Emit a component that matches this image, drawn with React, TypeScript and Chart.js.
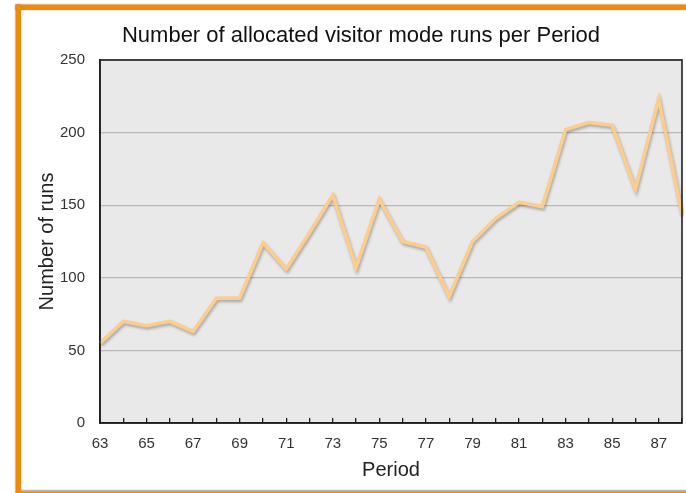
import React, { useEffect, useRef } from "react";
import { Chart, registerables } from "chart.js";

Chart.register(...registerables);

const periods = ["63","64","65","66","67","68","69","70","71","72","73","74","75","76","77","78","79","80","81","82","83","84","85","86","87","88"];
const runs = [55, 70, 67, 70, 63, 86, 86, 124, 106, 131, 157, 107, 154, 125, 121, 87, 125, 141, 152, 149, 202, 207, 205, 161, 223, 144];
const yTicks = [0, 50, 100, 150, 200, 250];

const TITLE = "Number of allocated visitor mode runs per Period";
const Y_TITLE = "Number of runs";
const X_TITLE = "Period";

const FONT = "'Liberation Sans', Arial, Helvetica, sans-serif";

const framePlugin = {
  id: "frame",
  beforeDraw(chart: any) {
    const { ctx, chartArea } = chart;
    ctx.save();
    ctx.fillStyle = "#ffffff";
    ctx.fillRect(0, 0, chart.width, chart.height);
    ctx.fillStyle = "#e9e9e9";
    ctx.fillRect(chartArea.left, chartArea.top, chartArea.right - chartArea.left, chartArea.bottom - chartArea.top);
    ctx.restore();
  },
  afterDraw(chart: any) {
    const { ctx, chartArea } = chart;
    ctx.save();
    ctx.strokeStyle = "#1e1e1e";
    ctx.lineWidth = 1.6;
    ctx.strokeRect(chartArea.left, chartArea.top, chartArea.right - chartArea.left, chartArea.bottom - chartArea.top);
    ctx.shadowColor = "rgba(0,0,0,0.25)";
    ctx.shadowBlur = 2;
    ctx.fillStyle = "#ef8a0a";
    ctx.fillRect(15.5, 4.5, chart.width - 15.5, 5.5);
    ctx.fillRect(15.5, 4.5, 5.5, chart.height - 4.5);
    ctx.shadowColor = "transparent";
    ctx.fillStyle = "#b9b3ab";
    ctx.fillRect(21, 489.8, chart.width - 21, 1.2);
    ctx.fillStyle = "#ef8a0a";
    ctx.fillRect(15.5, 491.2, chart.width - 15.5, 2);
    ctx.restore();
  },
};

const shadowPlugin = {
  id: "lineShadow",
  beforeDatasetDraw(chart: any) {
    const ctx = chart.ctx;
    ctx.save();
    ctx.shadowColor = "rgba(0,0,0,0.3)";
    ctx.shadowBlur = 3;
    ctx.shadowOffsetX = 1;
    ctx.shadowOffsetY = 2;
  },
  afterDatasetDraw(chart: any) {
    chart.ctx.restore();
  },
};

export default function App() {
  const ref = useRef<HTMLCanvasElement | null>(null);

  useEffect(() => {
    document.body.style.margin = "0";
    const canvas = ref.current;
    if (!canvas) return;
    const chart = new Chart(canvas, {
      type: "line",
      data: {
        labels: periods,
        datasets: [
          {
            data: runs,
            borderColor: "#ffcc8a",
            borderWidth: 3.5,
            pointRadius: 0,
            tension: 0,
            fill: false,
            clip: 2,
          },
        ],
      },
      options: {
        responsive: false,
        animation: false,
        devicePixelRatio: 1,
        layout: { padding: { left: 40, right: 4, top: 0, bottom: 0 } },
        plugins: {
          legend: { display: false },
          tooltip: { enabled: false },
          title: {
            display: true,
            text: TITLE,
            color: "#111111",
            font: { family: FONT, size: 22, weight: "normal" },
            padding: { top: 23, bottom: 10.6 },
          },
        },
        scales: {
          x: {
            type: "category",
            offset: false,
            grid: {
              drawOnChartArea: false,
              drawTicks: true,
              tickLength: -5,
              color: "#1e1e1e",
              lineWidth: 1.3,
            },
            border: { display: true, color: "#1e1e1e", width: 1.6 },
            ticks: {
              autoSkip: false,
              maxRotation: 0,
              padding: 17,
              color: "#333333",
              font: { family: FONT, size: 15 },
              callback: function (this: any, value: any, index: number) {
                const lab = periods[index];
                return Number(lab) % 2 === 1 ? lab : "";
              },
            },
            title: {
              display: true,
              text: X_TITLE,
              color: "#222222",
              font: { family: FONT, size: 20 },
              padding: { top: 0, bottom: 11 },
            },
            afterFit(scale: any) {
              scale.height = 70;
              scale.paddingRight = 0;
              scale.paddingLeft = 0;
            },
          },
          y: {
            min: 0,
            max: 250,
            afterBuildTicks(scale: any) {
              scale.ticks = yTicks.map((v) => ({ value: v }));
            },
            grid: {
              drawTicks: false,
              color: "#b9b9b9",
              lineWidth: 1.2,
            },
            border: { display: true, color: "#1e1e1e", width: 1.6 },
            ticks: {
              padding: 15,
              color: "#333333",
              font: { family: FONT, size: 15 },
            },
            title: {
              display: true,
              text: Y_TITLE,
              color: "#222222",
              font: { family: FONT, size: 20 },
              padding: { top: -5, bottom: 0 },
            },
            afterFit(scale: any) {
              scale.width = 60;
            },
          },
        },
      },
      plugins: [framePlugin, shadowPlugin],
    });
    return () => chart.destroy();
  }, []);

  return (
    <div style={{ position: "absolute", left: 0, top: 0, width: 686, height: 493 }}>
      <canvas ref={ref} width={686} height={493} style={{ width: 686, height: 493, display: "block" }} />
    </div>
  );
}
